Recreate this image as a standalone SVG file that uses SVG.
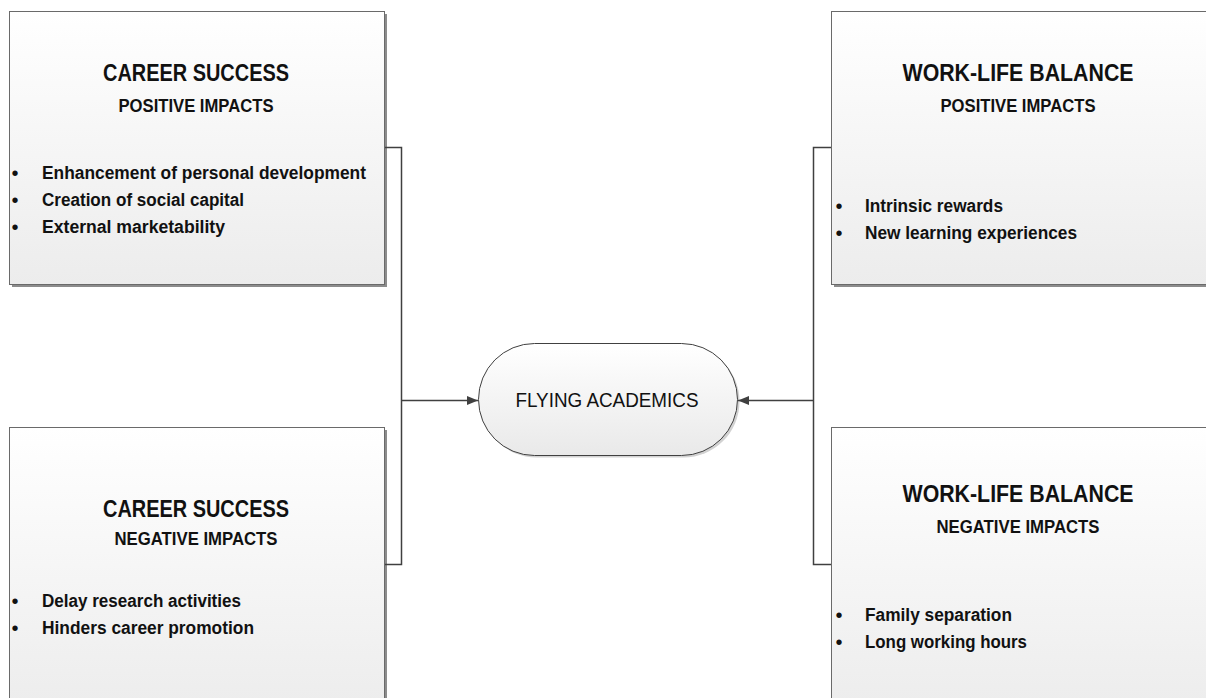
<svg xmlns="http://www.w3.org/2000/svg" width="1206" height="698" viewBox="0 0 1206 698">
  <defs>
    <linearGradient id="boxFill" x1="0" y1="0" x2="0" y2="1">
      <stop offset="0" stop-color="#ffffff"/>
      <stop offset="1" stop-color="#ececec"/>
    </linearGradient>
    <linearGradient id="pillFill" x1="0" y1="0" x2="0" y2="1">
      <stop offset="0" stop-color="#ffffff"/>
      <stop offset="1" stop-color="#e9e9e9"/>
    </linearGradient>
    <marker id="arrow" markerWidth="12" markerHeight="10" refX="11" refY="5" orient="auto" markerUnits="userSpaceOnUse">
      <path d="M0,0.5 L11,5 L0,9.5 Z" fill="#404040"/>
    </marker>
    <style>
      .box { fill: url(#boxFill); stroke: #6a6a6a; stroke-width: 1; }
      .shadow { fill: #8c8c8c; }
      .pill { fill: url(#pillFill); stroke: #404040; stroke-width: 1; }
      .pillshadow { fill: #d2d2d2; }
      .title { font-family: "Liberation Sans", Arial, sans-serif; font-weight: bold; font-size: 24px; fill: #111; text-anchor: middle; }
      .sub { font-family: "Liberation Sans", Arial, sans-serif; font-weight: bold; font-size: 18px; fill: #111; text-anchor: middle; }
      .item { font-family: "Liberation Sans", Arial, sans-serif; font-weight: bold; font-size: 18px; fill: #111; }
      .bullet { font-family: "Liberation Sans", Arial, sans-serif; font-size: 20px; fill: #111; text-anchor: middle; }
      .label { font-family: "Liberation Sans", Arial, sans-serif; font-size: 20.5px; fill: #111; text-anchor: middle; }
      .conn { fill: none; stroke: #404040; stroke-width: 1.5; }
    </style>
  </defs>

  <rect width="1206" height="698" fill="#ffffff"/>

  <!-- Career success: positive impacts -->
  <g id="career-positive">
    <rect class="shadow" x="12" y="14" width="375" height="273"/>
    <rect class="box" x="9.5" y="11.5" width="375" height="273"/>
    <text class="title" x="196" y="81" textLength="186" lengthAdjust="spacingAndGlyphs">CAREER SUCCESS</text>
    <text class="sub" x="196" y="112" textLength="155" lengthAdjust="spacingAndGlyphs">POSITIVE IMPACTS</text>
    <text class="bullet" x="15" y="180">•</text>
    <text class="item" x="42" y="179" textLength="324" lengthAdjust="spacingAndGlyphs">Enhancement of personal development</text>
    <text class="bullet" x="15" y="207">•</text>
    <text class="item" x="42" y="206" textLength="202" lengthAdjust="spacingAndGlyphs">Creation of social capital</text>
    <text class="bullet" x="15" y="234">•</text>
    <text class="item" x="42" y="233" textLength="183" lengthAdjust="spacingAndGlyphs">External marketability</text>
  </g>

  <!-- Career success: negative impacts -->
  <g id="career-negative">
    <rect class="shadow" x="12" y="430" width="375" height="290"/>
    <rect class="box" x="9.5" y="427.5" width="375" height="290"/>
    <text class="title" x="196" y="517" textLength="186" lengthAdjust="spacingAndGlyphs">CAREER SUCCESS</text>
    <text class="sub" x="196" y="545" textLength="163" lengthAdjust="spacingAndGlyphs">NEGATIVE IMPACTS</text>
    <text class="bullet" x="15" y="608">•</text>
    <text class="item" x="42" y="607" textLength="199" lengthAdjust="spacingAndGlyphs">Delay research activities</text>
    <text class="bullet" x="15" y="635">•</text>
    <text class="item" x="42" y="634" textLength="212" lengthAdjust="spacingAndGlyphs">Hinders career promotion</text>
  </g>

  <!-- Work-life balance: positive impacts -->
  <g id="worklife-positive">
    <rect class="shadow" x="834" y="14" width="390" height="273"/>
    <rect class="box" x="831.5" y="11.5" width="390" height="273"/>
    <text class="title" x="1018" y="81" textLength="231" lengthAdjust="spacingAndGlyphs">WORK-LIFE BALANCE</text>
    <text class="sub" x="1018" y="112" textLength="155" lengthAdjust="spacingAndGlyphs">POSITIVE IMPACTS</text>
    <text class="bullet" x="839" y="213">•</text>
    <text class="item" x="865" y="212" textLength="138" lengthAdjust="spacingAndGlyphs">Intrinsic rewards</text>
    <text class="bullet" x="839" y="240">•</text>
    <text class="item" x="865" y="239" textLength="212" lengthAdjust="spacingAndGlyphs">New learning experiences</text>
  </g>

  <!-- Work-life balance: negative impacts -->
  <g id="worklife-negative">
    <rect class="shadow" x="834" y="430" width="390" height="290"/>
    <rect class="box" x="831.5" y="427.5" width="390" height="290"/>
    <text class="title" x="1018" y="502" textLength="231" lengthAdjust="spacingAndGlyphs">WORK-LIFE BALANCE</text>
    <text class="sub" x="1018" y="533" textLength="163" lengthAdjust="spacingAndGlyphs">NEGATIVE IMPACTS</text>
    <text class="bullet" x="839" y="622">•</text>
    <text class="item" x="865" y="621" textLength="147" lengthAdjust="spacingAndGlyphs">Family separation</text>
    <text class="bullet" x="839" y="649">•</text>
    <text class="item" x="865" y="648" textLength="162" lengthAdjust="spacingAndGlyphs">Long working hours</text>
  </g>

  <!-- Central terminal -->
  <g id="flying-academics">
    <rect class="pillshadow" x="480.5" y="345.5" width="259" height="112" rx="56" ry="56"/>
    <rect class="pill" x="478.5" y="343.5" width="259" height="112" rx="56" ry="56"/>
    <text class="label" x="607" y="407" textLength="183" lengthAdjust="spacingAndGlyphs">FLYING ACADEMICS</text>
  </g>

  <!-- Connectors -->
  <g id="connectors">
    <path class="conn" d="M385,147.5 H401.5 V564.5 H385"/>
    <path class="conn" d="M401.5,400.5 H478" marker-end="url(#arrow)"/>
    <path class="conn" d="M831,147.5 H813.5 V564.5 H831"/>
    <path class="conn" d="M813.5,400.5 H738" marker-end="url(#arrow)"/>
  </g>
</svg>
